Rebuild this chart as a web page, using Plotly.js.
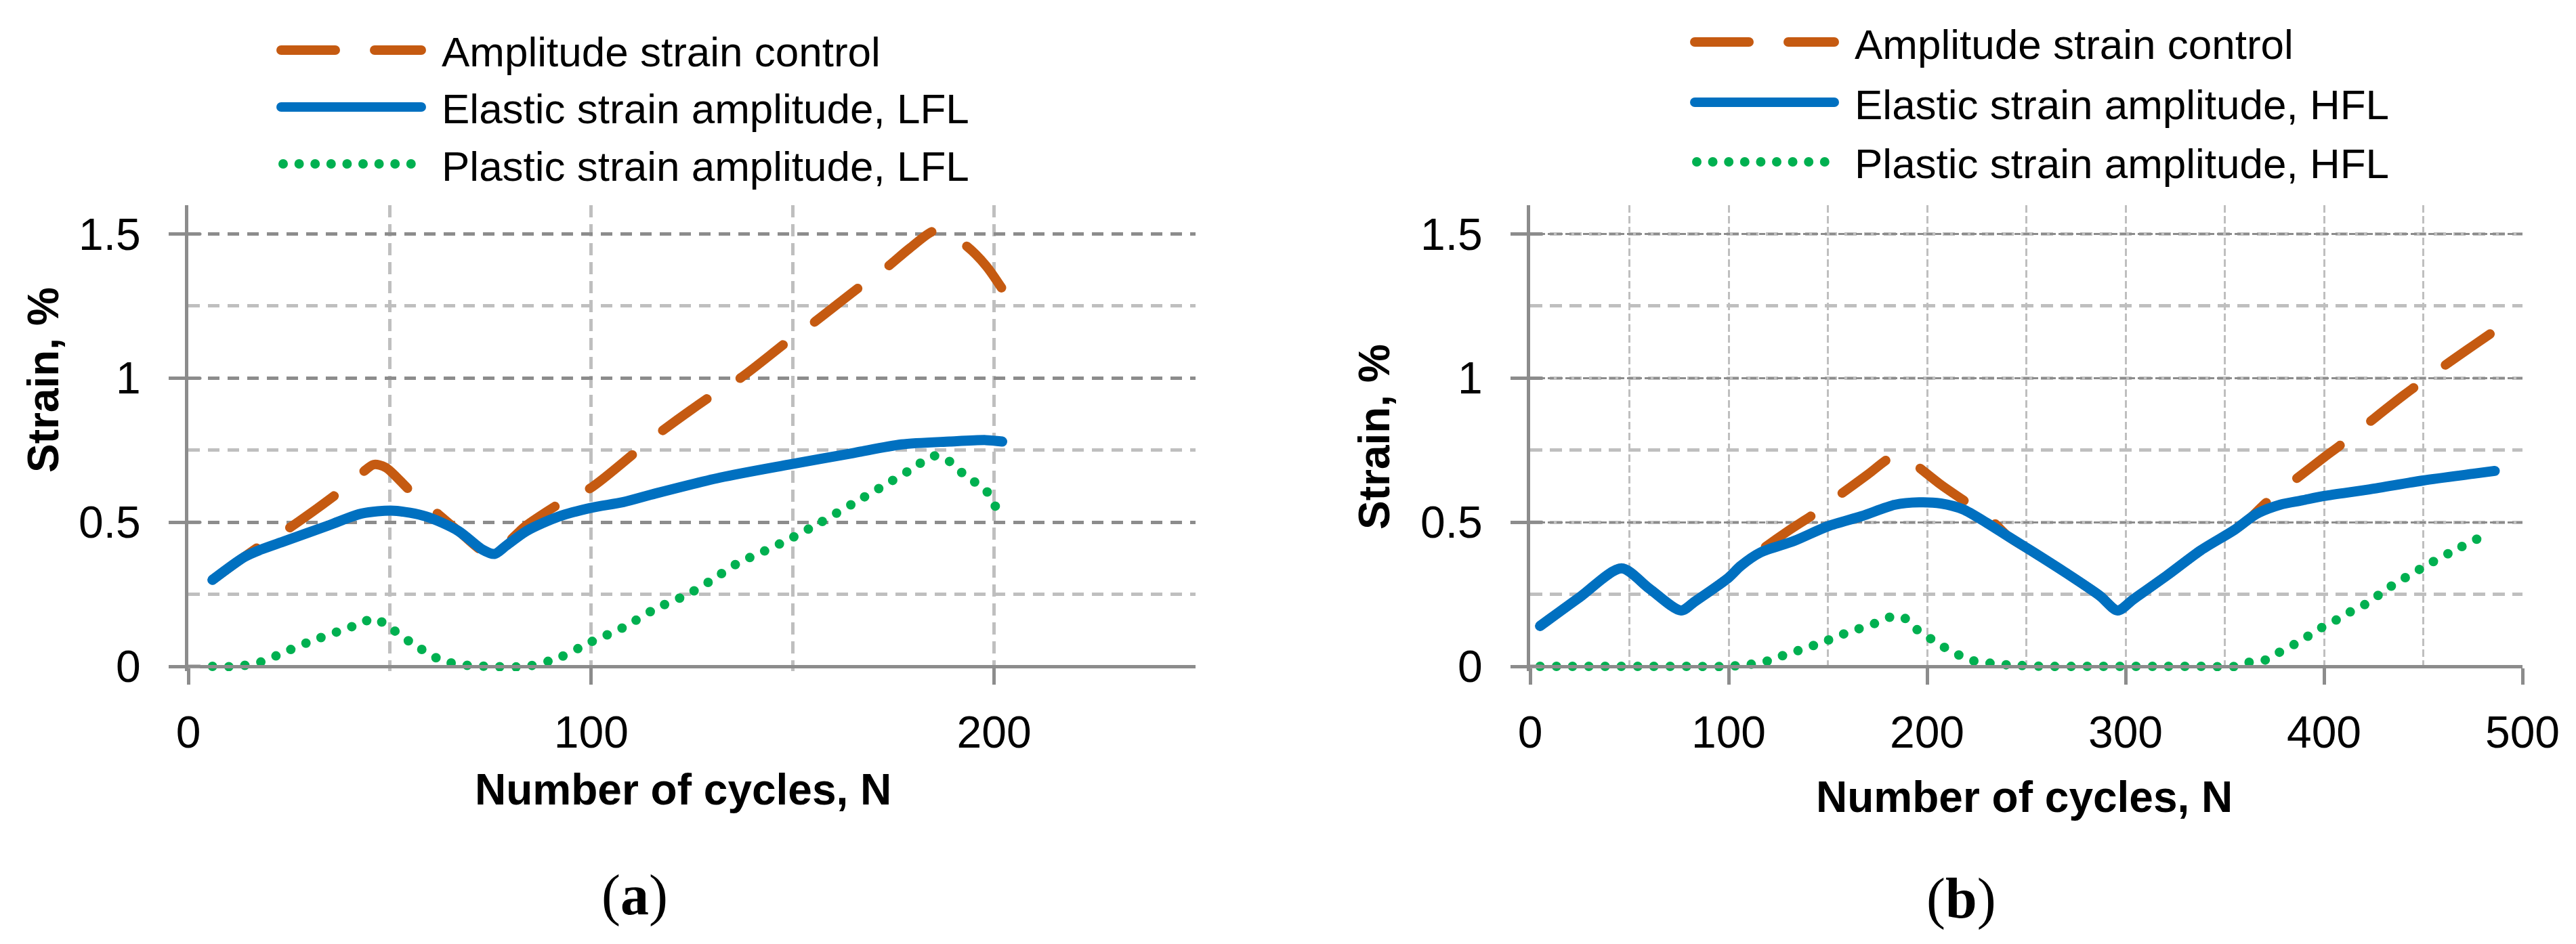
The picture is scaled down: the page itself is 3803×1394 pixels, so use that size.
<!DOCTYPE html>
<html>
<head>
<meta charset="utf-8">
<script src="https://cdn.plot.ly/plotly-3.0.1.min.js"></script>
<style>
  html, body { margin: 0; padding: 0; background: #ffffff; }
  #chart { width: 3803px; height: 1394px; }
  .js-line { stroke-linecap: round; stroke-linejoin: round; }
  .shapelayer path { stroke-linecap: round; }
</style>
</head>
<body>
<div id="chart"></div>
<script>
// ---------------- DATA ----------------
const namesA = ["Amplitude strain control", "Elastic strain amplitude, LFL", "Plastic strain amplitude, LFL"];
const namesB = ["Amplitude strain control", "Elastic strain amplitude, HFL", "Plastic strain amplitude, HFL"];

// (a) LFL
const aControlN = [6, 18, 24, 37, 43, 46, 49, 55, 61, 67, 75, 84, 94, 100, 116, 130, 137, 149, 155, 167, 173, 179, 185, 188, 193, 198, 202];
const aControl  = [0.30, 0.42, 0.47, 0.60, 0.67, 0.70, 0.69, 0.61, 0.54, 0.47, 0.39, 0.49, 0.58, 0.62, 0.80, 0.94, 1.00, 1.13, 1.19, 1.32, 1.38, 1.45, 1.51, 1.50, 1.46, 1.39, 1.31];

const aElasticN = [6, 14, 18, 24, 35, 43, 51, 59, 67, 73, 76, 79, 84, 92, 100, 108, 116, 132, 149, 165, 177, 189, 198, 202];
const aElastic  = [0.30, 0.38, 0.405, 0.435, 0.49, 0.53, 0.54, 0.52, 0.47, 0.405, 0.39, 0.42, 0.47, 0.52, 0.55, 0.57, 0.60, 0.655, 0.70, 0.74, 0.77, 0.78, 0.785, 0.78];

const aPlasticN = [6, 12, 18, 24, 30, 37, 43, 46, 49, 55, 63, 69, 75, 84, 92, 100, 108, 116, 124, 130, 136, 143, 149, 157, 165, 173, 179, 185, 188, 193, 198, 201];
const aPlastic  = [0, 0, 0.015, 0.05, 0.085, 0.12, 0.15, 0.167, 0.145, 0.085, 0.02, 0.004, 0, 0, 0.03, 0.085, 0.135, 0.20, 0.25, 0.30, 0.355, 0.40, 0.44, 0.50, 0.565, 0.63, 0.68, 0.73, 0.72, 0.66, 0.61, 0.535];

// (b) HFL
const bControlN = [5, 25, 46, 60, 76, 83, 100, 106, 117, 130, 144, 157, 170, 181, 186, 190, 195, 207, 219, 232, 241, 252, 270, 287, 296, 304, 321, 338, 355, 362, 371, 384, 400, 408, 421, 440, 460, 484];
const bControl  = [0.14, 0.24, 0.34, 0.27, 0.194, 0.225, 0.308, 0.348, 0.407, 0.47, 0.533, 0.60, 0.665, 0.722, 0.73, 0.72, 0.695, 0.63, 0.573, 0.509, 0.45, 0.403, 0.324, 0.245, 0.194, 0.233, 0.316, 0.403, 0.474, 0.51, 0.569, 0.64, 0.725, 0.766, 0.837, 0.94, 1.04, 1.155];

const bElasticN = [5, 25, 46, 60, 76, 83, 100, 106, 116, 133, 150, 167, 184, 196, 207, 218, 230, 241, 252, 270, 287, 296, 304, 321, 338, 355, 366, 378, 389, 400, 423, 450, 475, 486];
const bElastic  = [0.14, 0.24, 0.34, 0.27, 0.194, 0.225, 0.308, 0.348, 0.395, 0.435, 0.486, 0.521, 0.561, 0.569, 0.565, 0.545, 0.498, 0.45, 0.403, 0.324, 0.245, 0.194, 0.233, 0.316, 0.403, 0.474, 0.529, 0.561, 0.576, 0.591, 0.614, 0.645, 0.668, 0.678];

const bPlasticN = [5, 20, 40, 60, 80, 100, 108, 117, 125, 133, 141, 149, 157, 165, 173, 181, 185, 189, 195, 202, 209, 217, 224, 233, 241, 260, 280, 300, 320, 340, 355, 361, 370, 377, 385, 392, 399, 407, 414, 422, 432, 449, 465, 484];
const bPlastic  = [0, 0, 0, 0, 0, 0, 0.005, 0.013, 0.032, 0.05, 0.068, 0.088, 0.11, 0.129, 0.147, 0.17, 0.175, 0.166, 0.127, 0.095, 0.065, 0.036, 0.018, 0.01, 0.005, 0, 0, 0, 0, 0, 0, 0.013, 0.021, 0.047, 0.076, 0.105, 0.135, 0.164, 0.192, 0.22, 0.27, 0.34, 0.40, 0.465];

const yTickVals = [0, 0.5, 1, 1.5];
const xTitle = "Number of cycles, N";
const yTitle = "Strain, %";
const panelLabels = ["a", "b"];

// ---------------- STYLE ----------------
const W = 3803, H = 1394;
const PX = p => p / W;
const PY = p => 1 - p / H;
const SANS = '"Liberation Sans", Arial, sans-serif';
const SERIF = '"Liberation Serif", "Times New Roman", serif';
const C_ORANGE = "#C55A11", C_BLUE = "#0070C0", C_GREEN = "#00B050";
const AXIS = "#8c8c8c", LIGHT = "#bfbfbf";
const LW = 14;
const DASH_CTRL = "80px,58px";
const DOTS = "0px,24px";

const yBottomPx = 991, yZeroPx = 984, yTopPx = 303;
const unitPx = (yZeroPx - yTopPx) / 1.6;
const yMin = -(yBottomPx - yZeroPx) / unitPx;

function line(color, width, dash) { return { color: color, width: width, dash: dash, shape: "spline", smoothing: 0.8 }; }

const traces = [
  { x: aControlN, y: aControl, name: namesA[0], mode: "lines", line: line(C_ORANGE, LW, DASH_CTRL), xaxis: "x", yaxis: "y" },
  { x: aElasticN, y: aElastic, name: namesA[1], mode: "lines", line: line(C_BLUE, LW + 1, "solid"), xaxis: "x", yaxis: "y" },
  { x: aPlasticN, y: aPlastic, name: namesA[2], mode: "lines", line: line(C_GREEN, LW, DOTS), xaxis: "x", yaxis: "y" },
  { x: bControlN, y: bControl, name: namesB[0], mode: "lines", line: line(C_ORANGE, LW, DASH_CTRL), xaxis: "x2", yaxis: "y2" },
  { x: bElasticN, y: bElastic, name: namesB[1], mode: "lines", line: line(C_BLUE, LW + 1, "solid"), xaxis: "x2", yaxis: "y2" },
  { x: bPlasticN, y: bPlastic, name: namesB[2], mode: "lines", line: line(C_GREEN, LW, DOTS), xaxis: "x2", yaxis: "y2" }
];

const tickFont = { family: SANS, size: 66, color: "#000" };

function xAxis(domain, range, gridW, gridDash) {
  return {
    domain: domain, range: range, anchor: "free", position: PY(yZeroPx),
    showline: true, linecolor: AXIS, linewidth: 5, zeroline: false,
    tick0: 0, dtick: 100, ticks: "outside", ticklen: 24, tickwidth: 5, tickcolor: AXIS,
    showgrid: true, gridcolor: LIGHT, gridwidth: gridW, griddash: gridDash,
    minor: { dtick: 50, tick0: 0, showgrid: true, gridcolor: LIGHT, gridwidth: gridW, griddash: gridDash, ticks: "" },
    tickfont: tickFont, ticklabelstandoff: 14, fixedrange: true
  };
}
function yAxis(xName, majW, majDash, minW, minDash) {
  return {
    domain: [PY(yBottomPx), PY(yTopPx)], range: [yMin, 1.6], anchor: xName,
    showline: true, linecolor: AXIS, linewidth: 5, zeroline: false,
    tickvals: yTickVals, ticks: "outside", ticklen: 24, tickwidth: 5, tickcolor: AXIS,
    showgrid: true, gridcolor: AXIS, gridwidth: majW, griddash: majDash,
    minor: { dtick: 0.25, tick0: 0, showgrid: true, gridcolor: LIGHT, gridwidth: minW, griddash: minDash,
             ticks: "inside", ticklen: 17, tickwidth: 5, tickcolor: LIGHT },
    tickfont: tickFont, ticklabelstandoff: 28, fixedrange: true
  };
}

const shapes = [];
// inner halves of the major y ticks (they cross the axis)
[["x", "y"], ["x2", "y2"]].forEach(([xa, ya]) => {
  yTickVals.forEach(v => {
    shapes.push({ type: "line", xref: xa, yref: ya, xsizemode: "pixel", xanchor: 0, x0: 0, x1: 17, y0: v, y1: v,
                  line: { color: AXIS, width: 5 }, layer: "above" });
  });
});

// legends (drawn as samples + text)
const legends = [
  { names: namesA, x0: 415, x1: 622, tx: 650, rows: [74, 158, 242] },
  { names: namesB, x0: 2502, x1: 2708, tx: 2736, rows: [62, 151, 239] }
];
const legStyles = [
  { color: C_ORANGE, dash: DASH_CTRL, w: LW, dx0: 0, dx1: 0 },
  { color: C_BLUE, dash: "solid", w: LW, dx0: 0, dx1: 0 },
  { color: C_GREEN, dash: "0px,23.6px", w: LW, dx0: 3, dx1: -14 }
];
const annotations = [];
legends.forEach(L => {
  L.names.forEach((nm, i) => {
    const s = legStyles[i];
    shapes.push({ type: "line", xref: "paper", yref: "paper",
      x0: PX(L.x0 + s.dx0), x1: PX(L.x1 + s.dx1), y0: PY(L.rows[i]), y1: PY(L.rows[i]),
      line: { color: s.color, width: s.w, dash: s.dash } });
    annotations.push({ xref: "paper", yref: "paper", x: PX(L.tx), y: PY(L.rows[i] + 3), xanchor: "left", yanchor: "middle",
      text: nm, showarrow: false, font: { family: SANS, size: 62, color: "#000" } });
  });
});

// axis titles and panel labels
const titleFont = { family: SANS, size: 64, color: "#000", weight: "bold" };
annotations.push(
  { xref: "paper", yref: "paper", x: PX(1008), y: PY(1166), xanchor: "center", yanchor: "middle", showarrow: false, text: "<b>" + xTitle + "</b>", font: titleFont },
  { xref: "paper", yref: "paper", x: PX(2988), y: PY(1177), xanchor: "center", yanchor: "middle", showarrow: false, text: "<b>" + xTitle + "</b>", font: titleFont },
  { xref: "paper", yref: "paper", x: PX(64), y: PY(561), xanchor: "center", yanchor: "middle", showarrow: false, textangle: -90, text: "<b>" + yTitle + "</b>", font: titleFont },
  { xref: "paper", yref: "paper", x: PX(2029), y: PY(645), xanchor: "center", yanchor: "middle", showarrow: false, textangle: -90, text: "<b>" + yTitle + "</b>", font: titleFont },
  { xref: "paper", yref: "paper", x: PX(937), y: PY(1322), xanchor: "center", yanchor: "middle", showarrow: false, text: "(<b>" + panelLabels[0] + "</b>)", font: { family: SERIF, size: 84, color: "#000" } },
  { xref: "paper", yref: "paper", x: PX(2895), y: PY(1327), xanchor: "center", yanchor: "middle", showarrow: false, text: "(<b>" + panelLabels[1] + "</b>)", font: { family: SERIF, size: 84, color: "#000" } }
);

const layout = {
  width: W, height: H,
  margin: { l: 0, r: 0, t: 0, b: 0, pad: 0 },
  paper_bgcolor: "#ffffff", plot_bgcolor: "rgba(0,0,0,0)",
  showlegend: false,
  xaxis: xAxis([PX(278), PX(1765)], [0, 250], 5, "18px,10px"),
  yaxis: yAxis("x", 5, "17px,12px", 5, "17px,12px"),
  xaxis2: xAxis([PX(2259), PX(3724)], [0, 500], 3, "11px,5px"),
  yaxis2: yAxis("x2", 3, "9px,4px", 5, "18px,11px"),
  shapes: shapes,
  annotations: annotations
};

Plotly.newPlot("chart", traces, layout, { staticPlot: true, displayModeBar: false });
</script>
</body>
</html>
